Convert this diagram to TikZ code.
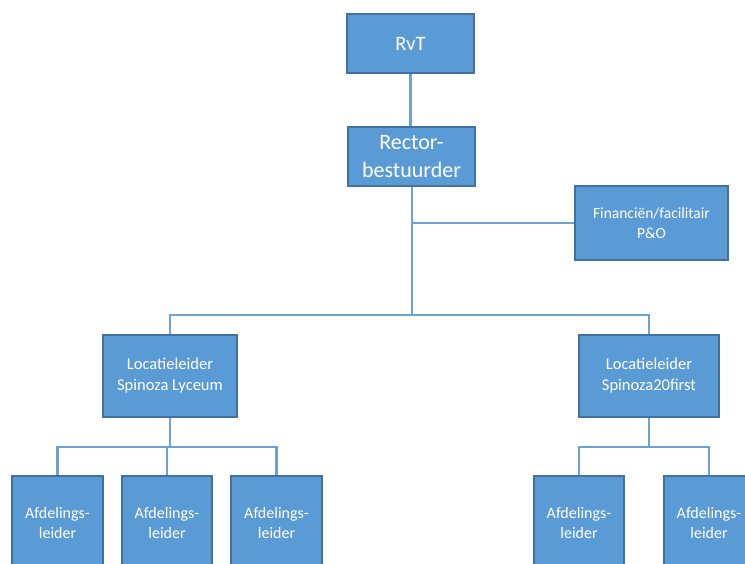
\documentclass[tikz,border=0pt]{standalone}
\usepackage{fontspec}
\setmainfont{Carlito}
\usetikzlibrary{backgrounds}
\definecolor{boxfill}{HTML}{5B9BD5}
\definecolor{boxline}{HTML}{41719C}
\definecolor{conn}{HTML}{6AA3D8}
\tikzset{
  orgbox/.style={draw=boxline, fill=boxfill, text=white, line width=1.6pt,
    align=center, inner sep=0pt, rectangle},
  conline/.style={draw=conn, line width=2.4pt},
}
\begin{document}
\begin{tikzpicture}[x=1pt,y=-1pt]
\clip (0,0) rectangle (745,563);
\node[orgbox, minimum width=127, minimum height=59, font=\fontsize{20.5}{24}\selectfont] (rvt) at (410.5,43.5) {RvT};
\node[orgbox, minimum width=127, minimum height=59, font=\fontsize{22}{28}\selectfont] (rector) at (411.5,156.5) {Rector-\\bestuurder};
\node[orgbox, minimum width=153, minimum height=74, font=\fontsize{15.5}{20}\selectfont] (fin) at (651.5,223) {Financiën/facilitair\\P\&O};
\node[orgbox, minimum width=134, minimum height=82, font=\fontsize{16.5}{21}\selectfont] (loc1) at (170,376) {Locatieleider\\Spinoza Lyceum};
\node[orgbox, minimum width=140, minimum height=82, font=\fontsize{16.5}{21}\selectfont] (loc2) at (649,376) {Locatieleider\\Spinoza20first};
\node[orgbox, minimum width=91, minimum height=94, font=\fontsize{16}{20}\selectfont] (a1) at (57.5,523) {Afdelings-\\leider};
\node[orgbox, minimum width=90, minimum height=94, font=\fontsize{16}{20}\selectfont] (a2) at (167,523) {Afdelings-\\leider};
\node[orgbox, minimum width=91, minimum height=94, font=\fontsize{16}{20}\selectfont] (a3) at (276.5,523) {Afdelings-\\leider};
\node[orgbox, minimum width=90, minimum height=94, font=\fontsize{16}{20}\selectfont] (b1) at (579,523) {Afdelings-\\leider};
\node[orgbox, minimum width=90, minimum height=94, font=\fontsize{16}{20}\selectfont] (b2) at (709,523) {Afdelings-\\leider};
\coordinate (bus) at (412,315);
\coordinate (bus1) at (170,447);
\coordinate (bus2) at (649,447);
\begin{scope}[on background layer]
\draw[conline] (rvt.south) -- (rvt.south |- rector.north);
\draw[conline] (rector.south -| bus) -- (bus);
\draw[conline] (fin.west) -- (fin.west -| bus);
\draw[conline] (loc1.north) |- (bus) -| (loc2.north);
\draw[conline] (loc1.south) -- (bus1);
\draw[conline] (a1.north) |- (bus1) -| (a3.north);
\draw[conline] (a2.north) -- (a2.north |- bus1);
\draw[conline] (loc2.south) -- (bus2);
\draw[conline] (b1.north) |- (bus2) -| (b2.north);
\end{scope}
\end{tikzpicture}
\end{document}
